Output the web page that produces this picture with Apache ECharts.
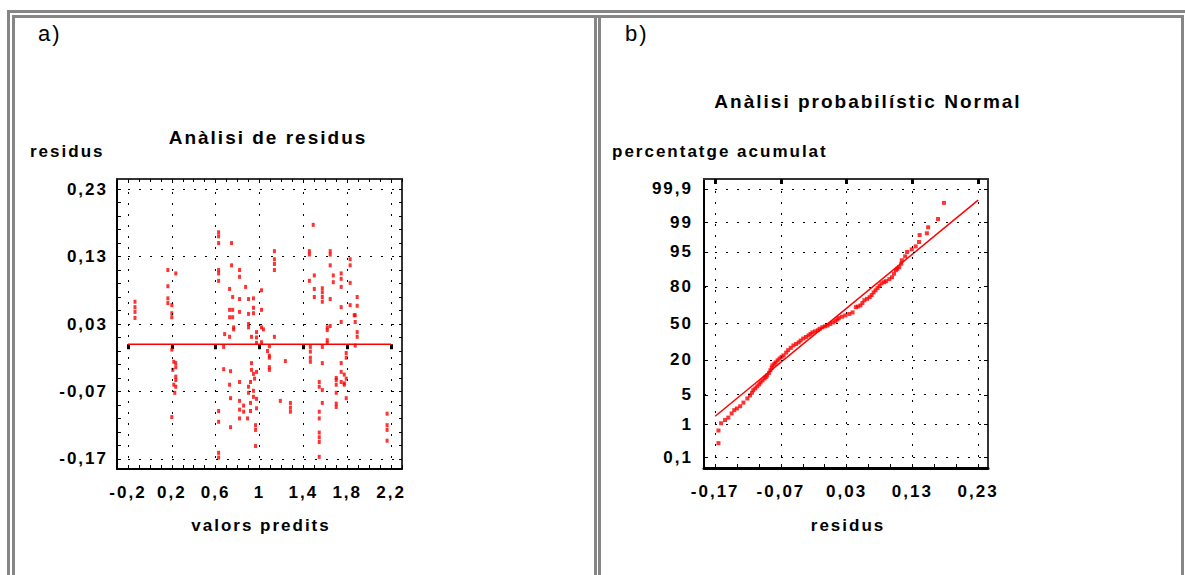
<!DOCTYPE html>
<html>
<head>
<meta charset="utf-8">
<script src="https://cdn.jsdelivr.net/npm/echarts@6/dist/echarts.min.js"></script>
<style>
html,body{margin:0;padding:0;background:#fff;}
#main{width:1185px;height:575px;letter-spacing:2px;}
</style>
</head>
<body>
<div id="main"></div>
<script>
// ---------- DATA ----------
// a) residual plot: predicted values vs residuals
const predicted = [1.49,0.627,0.627,0.627,0.745,1.136,1.136,1.136,1.136,1.455,1.455,1.645,1.645,1.645,1.827,1.827,0.164,0.236,0.164,0.164,0.164,0.2,0.2,0.2,-0.136,-0.136,-0.136,-0.136,0.627,0.627,0.627,0.745,0.818,0.818,0.873,0.727,0.755,0.818,0.9,0.945,1.018,0.727,0.755,0.818,0.9,0.945,0.945,1.018,0.755,1.5,1.455,1.5,1.5,1.573,1.573,1.573,1.573,1.645,1.673,1.673,1.745,1.745,1.745,1.827,1.891,1.745,1.827,1.891,1.864,0.727,0.764,0.764,0.682,0.727,0.9,0.9,0.927,0.973,0.973,0.973,1.018,1.036,1.136,1.018,1.09,1.073,1.09,1.09,1.236,1.09,1.09,0.673,0.673,0.736,0.818,0.727,0.9,0.9,0.927,0.927,0.945,0.973,0.955,0.918,0.945,0.945,0.973,0.973,0.918,0.918,0.818,0.818,0.855,0.855,0.736,0.891,0.818,0.736,0.964,0.964,0.627,0.627,0.627,0.627,0.964,1.19,1.282,1.282,1.282,0.2,0.218,0.236,0.236,0.209,0.236,0.236,0.218,0.236,0.227,0.2,1.464,1.464,1.464,1.464,1.573,1.573,1.618,1.618,1.645,1.618,1.618,1.745,1.873,1.873,1.891,1.891,1.873,1.791,1.791,1.745,1.745,1.773,1.791,1.7,1.7,1.745,1.773,1.773,1.7,1.791,1.7,1.7,1.7,1.545,1.545,1.573,1.573,1.545,1.545,1.545,1.545,1.545,1.545,2.164,2.164,2.164,2.164];
const residuals = [0.177,0.166,0.160,0.150,0.150,0.138,0.126,0.119,0.110,0.138,0.133,0.138,0.133,0.117,0.126,0.117,0.110,0.105,0.086,0.068,0.061,0.058,0.046,0.040,0.063,0.055,0.048,0.039,0.110,0.105,0.094,0.117,0.110,0.100,0.085,0.082,0.070,0.067,0.067,0.068,0.080,0.051,0.051,0.048,0.045,0.054,0.046,0.051,0.040,0.102,0.094,0.082,0.070,0.083,0.077,0.070,0.063,0.067,0.102,0.092,0.105,0.097,0.085,0.091,0.070,0.055,0.058,0.057,0.043,0.040,0.025,0.022,0.015,0.011,0.030,0.025,0.011,0.018,0.010,0.002,0.025,0.022,0.011,0.003,-0.003,-0.010,-0.017,-0.020,-0.025,-0.034,-0.038,-0.004,-0.037,-0.040,-0.056,-0.060,-0.063,-0.072,-0.028,-0.038,-0.044,-0.041,-0.051,-0.056,-0.069,-0.078,-0.081,-0.095,-0.087,-0.099,-0.084,-0.097,-0.091,-0.100,-0.080,-0.110,-0.110,-0.123,-0.120,-0.127,-0.099,-0.115,-0.161,-0.168,-0.151,-0.084,-0.087,-0.094,-0.100,-0.008,-0.026,-0.028,-0.034,-0.038,-0.048,-0.053,-0.060,-0.063,-0.072,-0.108,-0.004,-0.011,-0.020,-0.026,-0.004,-0.028,0.025,0.021,0.027,0.006,0.002,0.033,0.043,0.033,0.018,0.011,-0.002,-0.013,-0.020,-0.028,-0.041,-0.045,-0.051,-0.050,-0.053,-0.056,-0.058,-0.060,-0.060,-0.080,-0.072,-0.088,-0.093,-0.056,-0.063,-0.068,-0.087,-0.100,-0.110,-0.131,-0.138,-0.145,-0.167,-0.103,-0.120,-0.127,-0.143];
const zeroLineX = [-0.2, 2.2];
const zeroLineY = [0, 0];
const xTicksA = [-0.2, 0.2, 0.6, 1, 1.4, 1.8, 2.2];
const yTicksA = [-0.17, -0.07, 0.03, 0.13, 0.23];

// b) normal probability plot: residuals vs cumulative percentage
const probResid = [0.178,0.169,0.154,0.152,0.141,0.14,0.135,0.129,0.122,0.119,0.114,0.113,0.11,0.107,0.105,0.102,0.099,0.095,0.09,0.087,0.083,0.08,0.077,0.074,0.071,0.068,0.065,0.061,0.057,0.054,0.051,0.047,0.044,0.039,0.034,0.028,0.023,0.018,0.016,0.013,0.009,0.005,0.001,-0.003,-0.007,-0.011,-0.014,-0.018,-0.022,-0.025,-0.028,-0.032,-0.036,-0.04,-0.043,-0.047,-0.051,-0.055,-0.059,-0.062,-0.066,-0.069,-0.072,-0.075,-0.078,-0.08,-0.083,-0.084,-0.086,-0.088,-0.091,-0.093,-0.095,-0.098,-0.101,-0.103,-0.106,-0.109,-0.112,-0.114,-0.117,-0.121,-0.127,-0.132,-0.137,-0.141,-0.145,-0.15,-0.155,-0.161,-0.165,-0.165];
const probPercent = [99.72,99.18,98.64,98.08,97.88,96.93,96.16,95.54,94.95,93.82,92.65,91.5,90.15,89.5,88.88,87.3,85.54,84.5,83.40,82.8,82.12,80.5,79.10,77.6,76.11,74.2,72.57,71.3,70.19,68.0,65.91,65.0,64.43,59.87,58.5,57.14,56.0,54.78,53.59,52.0,50.8,49.4,48.0,47.2,46.4,45.0,43.6,42.6,41.7,40.3,39.0,37.6,36.3,34.6,33.0,31.7,30.5,28.6,26.8,25.0,23.0,22.0,20.9,19.7,18.4,17.5,16.6,15.3,14.0,12.7,11.5,10.8,10.2,9.4,8.7,8.0,7.35,6.7,6.18,5.5,4.85,4.18,3.4,2.81,2.5,2.28,1.9,1.50,1.3,1.07,0.68,0.29];
const fitLineX = [-0.17, 0.23];
const fitLinePercent = [1.62, 99.77];
const xTicksB = [-0.17, -0.07, 0.03, 0.13, 0.23];
const yTicksBPercent = [0.1, 1, 5, 20, 50, 80, 95, 99, 99.9];
const yTicksBLabels = ['0,1', '1', '5', '20', '50', '80', '95', '99', '99,9'];

// ---------- helpers ----------
function probit(pct) { // inverse standard normal CDF (percent -> z), axis transform
  const p = pct / 100;
  const a=[-3.969683028665376e+01,2.209460984245205e+02,-2.759285104469687e+02,1.383577518672690e+02,-3.066479806614716e+01,2.506628277459239e+00];
  const b=[-5.447609879822406e+01,1.615858368580409e+02,-1.556989798598866e+02,6.680131188771972e+01,-1.328068155288572e+01];
  const c=[-7.784894002430293e-03,-3.223964580411365e-01,-2.400758277161838e+00,-2.549732539343734e+00,4.374664141464968e+00,2.938163982698783e+00];
  const d=[7.784695709041462e-03,3.224671290700398e-01,2.445134137142996e+00,3.754408661907416e+00];
  const pl=0.02425, ph=1-pl;
  let q,r;
  if (p < pl) { q=Math.sqrt(-2*Math.log(p)); return (((((c[0]*q+c[1])*q+c[2])*q+c[3])*q+c[4])*q+c[5])/((((d[0]*q+d[1])*q+d[2])*q+d[3])*q+1); }
  if (p > ph) { q=Math.sqrt(-2*Math.log(1-p)); return -(((((c[0]*q+c[1])*q+c[2])*q+c[3])*q+c[4])*q+c[5])/((((d[0]*q+d[1])*q+d[2])*q+d[3])*q+1); }
  q=p-0.5; r=q*q;
  return (((((a[0]*r+a[1])*r+a[2])*r+a[3])*r+a[4])*r+a[5])*q/(((((b[0]*r+b[1])*r+b[2])*r+b[3])*r+b[4])*r+1);
}
function minorTicks(start, step, count) {
  const out = [];
  for (let i = 0; i < count; i++) out.push(+(start + i * step).toFixed(5));
  return out;
}
const comma = v => String(+v.toFixed(2)).replace('.', ',');

const FONT = 'Liberation Sans';
const TXT = '#000';
const DOT = [2, 9];

const yTicksBZ = yTicksBPercent.map(probit);

// minor tick positions
const xMinorA = minorTicks(-0.3, 0.1, 27);
const yMinorA = minorTicks(-0.17, 0.02, 21);
const xMinorB = minorTicks(-0.17, 0.1/3, 13);

function baseAxis(extra) {
  return Object.assign({
    type: 'value', splitLine: { show: false }, axisLabel: { show: false },
    axisTick: { show: false }, axisLine: { show: true, onZero: false, lineStyle: { color: '#000', width: 2 } }
  }, extra);
}
const labelStyle = { show: true, color: TXT, fontFamily: FONT, fontWeight: 'bold', fontSize: 17 };

const chart = echarts.init(document.getElementById('main'), null, { renderer: 'svg' });

const option = {
  animation: false,
  backgroundColor: '#fff',
  grid: [
    { left: 117, top: 179, width: 285, height: 290 },
    { left: 704, top: 179, width: 284, height: 289 }
  ],
  xAxis: [
    baseAxis({ gridIndex: 0, position: 'bottom', min: -0.3, max: 2.3,
      axisTick: { show: true, inside: true, length: 4, customValues: xMinorA, lineStyle: { color: '#000', width: 1 } },
      axisLabel: Object.assign({}, labelStyle, { customValues: xTicksA, margin: 15, formatter: comma }) }),
    baseAxis({ gridIndex: 0, position: 'top', min: -0.3, max: 2.3,
      axisLine: { show: true, onZero: false, lineStyle: { color: '#333', width: 2 } },
      axisTick: { show: true, inside: true, length: 3, customValues: xMinorA, lineStyle: { color: '#000', width: 1 } } }),
    baseAxis({ gridIndex: 0, position: 'top', min: -0.3, max: 2.3, axisLine: { show: false },
      axisTick: { show: true, inside: true, length: 5, customValues: xTicksA, lineStyle: { color: '#000', width: 3 } } }),
    baseAxis({ gridIndex: 1, position: 'bottom', min: -0.187, max: 0.245,
      axisLine: { show: true, onZero: false, lineStyle: { color: '#000', width: 3 } },
      axisTick: { show: true, inside: true, length: 4, customValues: xMinorB, lineStyle: { color: '#000', width: 1 } },
      axisLabel: Object.assign({}, labelStyle, { customValues: xTicksB, margin: 15, formatter: comma }) }),
    baseAxis({ gridIndex: 1, position: 'top', min: -0.187, max: 0.245,
      axisLine: { show: true, onZero: false, lineStyle: { color: '#333', width: 2 } },
      axisTick: { show: true, inside: true, length: 5, customValues: xTicksB, lineStyle: { color: '#000', width: 3 } } })
  ],
  yAxis: [
    baseAxis({ gridIndex: 0, position: 'left', min: -0.185, max: 0.245,
      axisTick: { show: true, inside: true, length: 4, customValues: yMinorA, lineStyle: { color: '#000', width: 1 } },
      axisLabel: Object.assign({}, labelStyle, { customValues: yTicksA, margin: 9, formatter: comma }) }),
    baseAxis({ gridIndex: 0, position: 'right', min: -0.185, max: 0.245,
      axisLine: { show: true, onZero: false, lineStyle: { color: '#333', width: 2 } },
      axisTick: { show: true, inside: true, length: 3, customValues: yMinorA, lineStyle: { color: '#000', width: 1 } } }),
    baseAxis({ gridIndex: 1, position: 'left', min: -3.33, max: 3.32,
      axisTick: { show: true, inside: true, length: 4, customValues: yTicksBZ, lineStyle: { color: '#000', width: 1 } },
      axisLabel: Object.assign({}, labelStyle, { customValues: yTicksBZ, margin: 11,
        formatter: v => { let bi = 0, bd = 1e9; yTicksBZ.forEach((z, i) => { const dd = Math.abs(z - v); if (dd < bd) { bd = dd; bi = i; } }); return yTicksBLabels[bi]; } }) }),
    baseAxis({ gridIndex: 1, position: 'right', min: -3.33, max: 3.32,
      axisLine: { show: true, onZero: false, lineStyle: { color: '#333', width: 2 } },
      axisTick: { show: true, inside: true, length: 4, customValues: yTicksBZ, lineStyle: { color: '#000', width: 1 } } })
  ],
  series: [
    { type: 'line', xAxisIndex: 0, yAxisIndex: 0, z: 2, symbol: 'none', silent: true,
      data: zeroLineX.map((x, i) => [x, zeroLineY[i]]),
      lineStyle: { color: '#ff0000', width: 1.5 },
      markLine: { silent: true, symbol: 'none', label: { show: false },
        lineStyle: { color: '#000', width: 1, type: DOT },
        data: xTicksA.map(v => ({ xAxis: v })).concat(yTicksA.map(v => ({ yAxis: v }))) } },
    { type: 'scatter', xAxisIndex: 0, yAxisIndex: 0, z: 3, symbol: 'rect', symbolSize: [3, 4],
      itemStyle: { color: '#ff0000' },
      data: predicted.map((x, i) => [x, residuals[i]]) },
    { type: 'line', xAxisIndex: 3, yAxisIndex: 2, z: 2, symbol: 'none', silent: true,
      data: fitLineX.map((x, i) => [x, probit(fitLinePercent[i])]),
      lineStyle: { color: '#ff0000', width: 1.5 },
      markLine: { silent: true, symbol: 'none', label: { show: false },
        lineStyle: { color: '#000', width: 1, type: DOT },
        data: xTicksB.map(v => ({ xAxis: v })).concat(yTicksBZ.map(v => ({ yAxis: v }))) } },
    { type: 'scatter', xAxisIndex: 3, yAxisIndex: 2, z: 3, symbol: 'rect', symbolSize: [4, 4],
      itemStyle: { color: '#ff0000' },
      data: probResid.map((x, i) => [x, probit(probPercent[i])]) }
  ],
  graphic: [
    // panel borders
    { type: 'rect', shape: { x: 7, y: 10, width: 1178, height: 3 }, style: { fill: '#868686' }, silent: true },
    { type: 'rect', shape: { x: 7, y: 10, width: 3, height: 565 }, style: { fill: '#868686' }, silent: true },
    { type: 'rect', shape: { x: 12, y: 15, width: 1172, height: 3 }, style: { fill: '#868686' }, silent: true },
    { type: 'rect', shape: { x: 12, y: 15, width: 3, height: 560 }, style: { fill: '#868686' }, silent: true },
    { type: 'rect', shape: { x: 594, y: 15, width: 3, height: 560 }, style: { fill: '#868686' }, silent: true },
    { type: 'rect', shape: { x: 598, y: 15, width: 3, height: 560 }, style: { fill: '#868686' }, silent: true },
    { type: 'rect', shape: { x: 1181, y: 15, width: 3, height: 560 }, style: { fill: '#868686' }, silent: true },
    // texts
    { type: 'text', x: 38, y: 33, style: { text: 'a)', font: '22px "Liberation Sans"', fill: TXT, verticalAlign: 'middle' } },
    { type: 'text', x: 625, y: 33, style: { text: 'b)', font: '22px "Liberation Sans"', fill: TXT, verticalAlign: 'middle' } },
    { type: 'text', x: 268, y: 137, style: { text: 'Anàlisi de residus', font: 'bold 19px "Liberation Sans"', fill: TXT, align: 'center', verticalAlign: 'middle' } },
    { type: 'text', x: 30, y: 151, style: { text: 'residus', font: 'bold 17px "Liberation Sans"', fill: TXT, verticalAlign: 'middle' } },
    { type: 'text', x: 261, y: 525, style: { text: 'valors predits', font: 'bold 17px "Liberation Sans"', fill: TXT, align: 'center', verticalAlign: 'middle' } },
    { type: 'text', x: 868, y: 101, style: { text: 'Anàlisi probabilístic Normal', font: 'bold 19px "Liberation Sans"', fill: TXT, align: 'center', verticalAlign: 'middle' } },
    { type: 'text', x: 612, y: 151, style: { text: 'percentatge acumulat', font: 'bold 17px "Liberation Sans"', fill: TXT, verticalAlign: 'middle' } },
    { type: 'text', x: 848, y: 525, style: { text: 'residus', font: 'bold 17px "Liberation Sans"', fill: TXT, align: 'center', verticalAlign: 'middle' } }
  ]
};
chart.setOption(option);
</script>
</body>
</html>
